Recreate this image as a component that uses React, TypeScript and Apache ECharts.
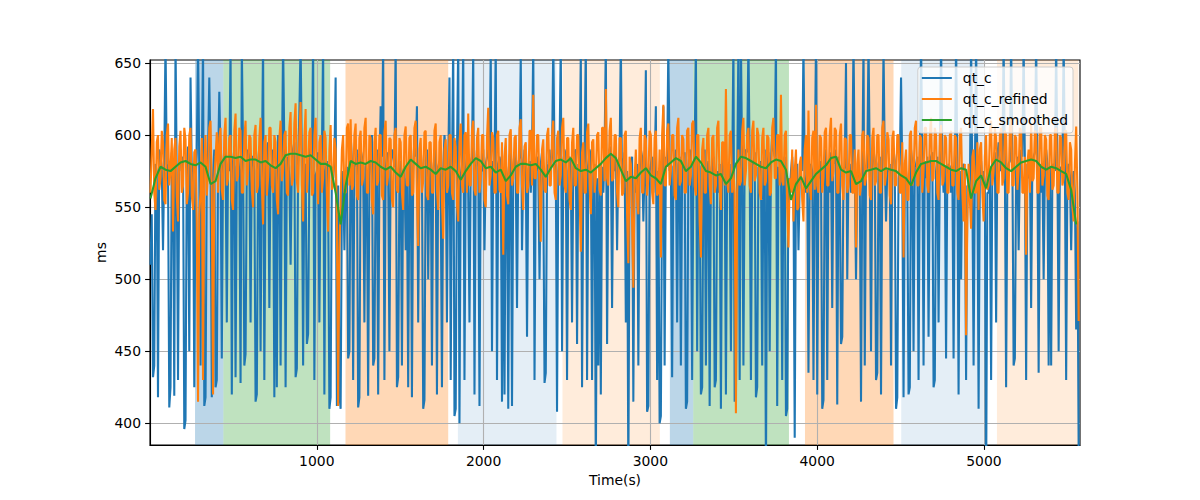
import React, { useEffect, useRef } from "react";
import * as echarts from "echarts";

// Sampling grid of the raw series (seconds)
const SAMPLE_START = 3;
const SAMPLE_STEP = 7.5;
const SMOOTH_START = 3;
const SMOOTH_STEP = 30;

const qtC = [
  510, 545, 432, 440, 580, 575, 418, 590, 585, 578, 520, 582, 665, 580, 575, 411, 425, 588, 572, 419, 665, 570, 430, 582, 590, 575, 585, 396, 402, 578, 592, 450, 640, 575, 580, 425, 570, 588, 665, 578,
  440, 578, 665, 412, 418, 575, 588, 640, 580, 418, 572, 590, 425, 430, 578, 630, 585, 445, 578, 590, 582, 470, 580, 575, 662, 420, 582, 590, 432, 578, 585, 575, 428, 662, 588, 440, 448, 580, 590, 585,
  470, 585, 585, 575, 415, 420, 580, 592, 450, 578, 665, 430, 575, 588, 595, 480, 580, 575, 590, 418, 578, 425, 600, 585, 440, 575, 665, 590, 425, 580, 585, 570, 510, 578, 590, 595, 432, 438, 580, 615,
  665, 582, 440, 578, 580, 455, 462, 575, 600, 585, 665, 430, 572, 575, 588, 470, 580, 585, 665, 420, 575, 582, 560, 410, 418, 578, 570, 582, 640, 412, 565, 420, 410, 555, 575, 520, 570, 578, 445, 450,
  600, 582, 430, 578, 580, 590, 411, 418, 590, 585, 578, 470, 580, 560, 419, 572, 588, 600, 440, 445, 575, 590, 420, 575, 620, 585, 665, 430, 575, 588, 575, 450, 580, 590, 585, 578, 665, 425, 432, 570,
  582, 440, 575, 578, 520, 570, 425, 580, 588, 418, 575, 600, 585, 620, 470, 578, 590, 575, 410, 416, 582, 590, 500, 578, 585, 440, 575, 585, 590, 420, 578, 582, 560, 425, 575, 600, 588, 470, 580, 640,
  430, 575, 665, 405, 410, 585, 665, 400, 572, 580, 665, 430, 575, 588, 560, 470, 580, 585, 660, 420, 575, 590, 585, 412, 578, 575, 590, 520, 580, 585, 590, 578, 660, 450, 582, 575, 665, 430, 580, 585,
  580, 415, 575, 420, 580, 572, 410, 585, 590, 412, 578, 588, 575, 480, 580, 585, 655, 520, 578, 590, 580, 460, 575, 582, 560, 588, 665, 430, 578, 585, 575, 500, 580, 588, 565, 428, 435, 575, 580, 590,
  575, 585, 665, 580, 578, 408, 575, 590, 665, 450, 580, 590, 585, 430, 575, 585, 578, 470, 578, 588, 590, 455, 580, 575, 658, 425, 575, 585, 665, 430, 578, 590, 585, 430, 575, 580, 360, 570, 440, 580,
  420, 578, 560, 588, 665, 455, 580, 590, 592, 480, 585, 575, 590, 520, 582, 585, 665, 560, 580, 588, 470, 575, 360, 570, 580, 585, 415, 572, 560, 580, 440, 575, 590, 585, 540, 578, 645, 408, 412, 575,
  580, 585, 560, 578, 620, 430, 575, 400, 405, 570, 620, 440, 585, 578, 665, 575, 582, 432, 578, 580, 590, 470, 580, 585, 440, 575, 580, 588, 410, 415, 578, 590, 585, 430, 580, 585, 665, 450, 582, 578,
  420, 425, 578, 590, 440, 575, 582, 412, 572, 580, 585, 425, 430, 575, 560, 580, 410, 570, 595, 582, 420, 575, 570, 580, 450, 572, 665, 415, 420, 570, 665, 430, 665, 578, 440, 585, 590, 588, 665, 580,
  430, 580, 580, 588, 418, 425, 578, 560, 582, 440, 575, 590, 360, 575, 588, 450, 582, 600, 590, 585, 665, 412, 578, 570, 588, 430, 580, 585, 405, 410, 570, 560, 575, 585, 565, 390, 572, 580, 520, 568,
  580, 575, 665, 570, 560, 575, 435, 568, 580, 575, 430, 572, 665, 420, 575, 570, 582, 410, 416, 585, 590, 430, 580, 560, 588, 480, 585, 580, 590, 413, 585, 575, 455, 460, 575, 578, 650, 500, 575, 580,
  560, 578, 665, 575, 500, 570, 575, 572, 415, 568, 665, 440, 575, 578, 665, 580, 450, 578, 590, 582, 430, 435, 580, 585, 420, 578, 660, 582, 540, 575, 575, 580, 440, 578, 590, 582, 410, 418, 570, 580,
  640, 575, 418, 570, 575, 565, 420, 425, 590, 580, 450, 578, 580, 585, 430, 582, 665, 588, 440, 582, 570, 585, 460, 580, 585, 588, 425, 430, 575, 585, 470, 580, 665, 582, 560, 578, 445, 575, 580, 578,
  560, 578, 445, 575, 665, 580, 420, 575, 500, 578, 580, 575, 430, 565, 560, 560, 665, 565, 440, 572, 665, 578, 410, 575, 582, 565, 575, 568, 350, 560, 560, 575, 430, 580, 580, 588, 470, 585, 595, 582,
  575, 580, 665, 578, 425, 575, 580, 582, 665, 585, 440, 445, 575, 585, 520, 580, 590, 585, 665, 582, 430, 580, 570, 585, 480, 582, 585, 588, 665, 585, 435, 580, 560, 578, 500, 575, 590, 580, 440, 578,
  440, 578, 580, 575, 665, 580, 450, 578, 575, 580, 665, 578, 430, 575, 580, 572, 520, 568, 575, 560, 465, 540, 380,
];

const qtCRefined = [
  560, 590, 618, 560, 548, 595, 600, 562, 570, 603, 595, 555, 552, 600, 608, 565, 575, 598, 533, 590, 598, 558, 540, 592, 603, 560, 565, 605, 597, 552, 560, 600, 605, 558, 548, 588, 590, 540, 415, 545,
  560, 598, 430, 580, 600, 558, 575, 605, 610, 560, 420, 570, 585, 602, 560, 598, 605, 562, 555, 600, 612, 565, 570, 598, 600, 555, 548, 603, 615, 568, 572, 605, 603, 560, 560, 598, 610, 565, 575, 600,
  598, 562, 550, 600, 607, 560, 565, 598, 612, 565, 538, 595, 600, 558, 570, 605, 605, 565, 560, 600, 595, 555, 545, 598, 610, 568, 575, 600, 603, 560, 558, 605, 616, 565, 570, 608, 622, 568, 560, 600,
  623, 565, 540, 598, 618, 560, 575, 602, 605, 558, 560, 600, 612, 568, 552, 595, 600, 560, 570, 603, 598, 558, 533, 590, 607, 562, 565, 598, 590, 540, 412, 520, 555, 590, 600, 560, 560, 605, 608, 565,
  611, 562, 565, 600, 608, 558, 555, 598, 603, 565, 570, 605, 612, 560, 560, 600, 598, 555, 545, 595, 605, 565, 568, 600, 600, 558, 555, 602, 610, 565, 572, 598, 597, 555, 550, 600, 605, 562, 560, 598,
  595, 560, 548, 600, 606, 565, 565, 598, 600, 558, 560, 605, 610, 560, 523, 590, 598, 560, 568, 602, 603, 558, 555, 595, 595, 560, 560, 603, 608, 562, 548, 595, 600, 555, 528, 590, 597, 560, 565, 600,
  600, 560, 555, 598, 592, 552, 540, 595, 608, 565, 560, 600, 602, 560, 615, 565, 565, 603, 610, 562, 558, 598, 605, 560, 570, 600, 600, 555, 550, 598, 619, 565, 572, 602, 598, 560, 560, 600, 603, 562,
  560, 595, 517, 585, 598, 558, 552, 600, 604, 565, 570, 598, 600, 560, 560, 605, 611, 565, 548, 592, 595, 560, 565, 603, 603, 565, 628, 570, 570, 600, 600, 560, 526, 590, 597, 562, 560, 600, 605, 565,
  565, 600, 610, 560, 555, 598, 603, 565, 572, 605, 612, 565, 560, 598, 598, 555, 548, 595, 605, 565, 565, 600, 600, 560, 519, 588, 595, 560, 560, 602, 608, 565, 545, 595, 597, 560, 570, 600, 602, 562,
  558, 605, 605, 568, 632, 570, 565, 603, 612, 568, 570, 600, 600, 560, 550, 598, 598, 558, 560, 600, 603, 545, 511, 585, 580, 540, 494, 570, 590, 555, 545, 598, 605, 560, 560, 600, 597, 558, 570, 603,
  600, 560, 552, 598, 603, 558, 560, 590, 515, 600, 621, 565, 565, 603, 608, 565, 575, 600, 600, 558, 555, 605, 612, 565, 568, 600, 597, 560, 560, 603, 605, 565, 572, 608, 610, 565, 558, 600, 600, 540,
  515, 590, 598, 560, 560, 600, 605, 565, 552, 598, 600, 560, 565, 605, 610, 562, 548, 595, 595, 565, 632, 568, 560, 600, 603, 560, 575, 560, 407, 560, 590, 565, 568, 603, 612, 565, 575, 600, 605, 565,
  560, 603, 610, 568, 572, 605, 600, 560, 555, 598, 605, 565, 568, 600, 598, 558, 560, 605, 612, 570, 570, 600, 600, 565, 628, 568, 565, 600, 603, 550, 522, 570, 560, 590, 540, 575, 590, 548, 550, 580,
  585, 555, 540, 590, 600, 560, 617, 565, 555, 598, 603, 562, 621, 565, 560, 600, 598, 560, 570, 602, 605, 565, 565, 600, 612, 568, 575, 605, 603, 560, 560, 600, 608, 565, 555, 598, 597, 560, 565, 600,
  600, 560, 560, 590, 522, 580, 590, 558, 565, 600, 603, 565, 570, 600, 598, 558, 555, 598, 605, 565, 568, 600, 600, 560, 560, 605, 610, 565, 572, 602, 597, 558, 552, 598, 603, 565, 565, 600, 600, 560,
  560, 595, 515, 580, 590, 555, 555, 600, 603, 565, 570, 605, 610, 565, 565, 600, 598, 560, 575, 605, 605, 565, 560, 600, 612, 568, 570, 605, 600, 560, 555, 600, 607, 565, 568, 600, 598, 560, 560, 600,
  603, 565, 565, 600, 598, 560, 555, 600, 605, 560, 540, 580, 461, 540, 580, 555, 535, 585, 590, 560, 560, 595, 548, 590, 595, 560, 540, 585, 600, 562, 565, 603, 610, 565, 575, 605, 598, 560, 560, 600,
  605, 565, 570, 603, 600, 560, 560, 605, 612, 565, 565, 600, 598, 562, 575, 605, 603, 560, 560, 585, 517, 580, 590, 560, 608, 568, 570, 603, 600, 560, 560, 605, 605, 565, 572, 600, 597, 558, 555, 600,
  600, 562, 565, 603, 605, 560, 560, 600, 598, 565, 570, 603, 603, 560, 555, 595, 590, 550, 540, 580, 606, 560, 471,
];

const qtCSmoothed = [
  556, 570, 578, 576, 575, 578, 581, 582, 580, 579, 581, 578, 566, 568, 580, 585, 585, 584, 585, 582,
  583, 583, 581, 582, 579, 577, 580, 586, 587, 587, 586, 585, 586, 583, 580, 580, 578, 560, 538, 565,
  582, 580, 581, 580, 582, 581, 578, 576, 578, 574, 571, 578, 583, 580, 577, 578, 576, 573, 577, 576,
  578, 575, 569, 575, 580, 584, 582, 577, 578, 574, 576, 568, 572, 578, 580, 580, 579, 580, 576, 571,
  577, 582, 583, 581, 584, 577, 575, 576, 574, 577, 580, 584, 587, 584, 576, 568, 571, 570, 574, 577,
  572, 570, 566, 578, 581, 584, 582, 575, 578, 585, 581, 575, 574, 572, 573, 566, 570, 580, 585, 584,
  582, 580, 578, 577, 581, 583, 582, 576, 555, 566, 571, 563, 568, 573, 576, 579, 584, 585, 576, 574,
  575, 566, 568, 575, 576, 577, 575, 577, 576, 575, 572, 570, 565, 574, 580, 581, 582, 582, 580, 578,
  576, 575, 577, 576, 556, 568, 572, 563, 578, 583, 581, 577, 575, 578, 581, 582, 583, 582, 578, 576,
  578, 577, 575, 573, 562, 538,
];

// Shaded intervals (seconds) and their kinds
const spanStarts = [270, 440, 1172, 1846, 2473, 3117, 3257, 3927, 4504, 5078];
const spanEnds = [440, 1080, 1788, 2437, 3057, 3257, 3831, 4458, 4998, 5566];
const spanKinds = [0, 1, 2, 3, 4, 0, 1, 2, 3, 4];
const spanColors = [
  "rgba(31,119,180,0.3)",
  "rgba(44,160,44,0.3)",
  "rgba(255,127,14,0.3)",
  "rgba(31,119,180,0.12)",
  "rgba(255,127,14,0.15)",
];

const xTicks = [1000, 2000, 3000, 4000, 5000];
const yTicks = [400, 450, 500, 550, 600, 650];

const X_MIN = 0;
const X_MAX = 5576;
const Y_MIN = 384.9;
const Y_MAX = 652.1;

const FONT = "DejaVu Sans";
const FS = 13.9;
const LW = 2.08;

export default function App() {
  const ref = useRef<HTMLDivElement>(null);

  useEffect(() => {
    if (!ref.current) return;
    const chart = echarts.init(ref.current, null, { renderer: "svg" });

    const rawData = qtC.map((v, i) => [SAMPLE_START + SAMPLE_STEP * i, v]);
    const refData = qtCRefined.map((v, i) => [SAMPLE_START + SAMPLE_STEP * i, v]);
    const smData = qtCSmoothed.map((v, i) => [SMOOTH_START + SMOOTH_STEP * i, v]);
    const spanData = spanStarts.map((s, i) => [s, spanEnds[i], spanKinds[i]]);

    const axisCommon = {
      z: 1.5,
      axisLine: { show: true, onZero: false, lineStyle: { color: "#000", width: 1.1 } },
      axisTick: { show: true, length: 4.9, lineStyle: { color: "#000", width: 1.1 } },
      splitLine: { show: true, lineStyle: { color: "#b0b0b0", width: 1.1 } },
      nameTextStyle: { fontFamily: FONT, fontSize: FS, color: "#000" },
      nameMoveOverlap: false,
    };

    chart.setOption({
      animation: false,
      grid: {
        left: 150,
        right: 120,
        top: 60,
        bottom: 55,
        show: true,
        borderColor: "#000",
        borderWidth: 1.1,
        backgroundColor: "transparent",
      },
      legend: {
        data: ["qt_c", "qt_c_refined", "qt_c_smoothed"],
        orient: "vertical",
        right: 127,
        top: 67,
        icon: "rect",
        itemWidth: 30,
        itemHeight: 2,
        itemGap: 5,
        padding: [3, 5, 5, 4],
        backgroundColor: "rgba(255,255,255,0.8)",
        borderColor: "#cccccc",
        borderWidth: 1,
        borderRadius: 3,
        textStyle: {
          fontFamily: FONT,
          fontSize: FS,
          color: "#000",
          lineHeight: 16,
          padding: [0, 0, 0, 6],
        },
      },
      xAxis: {
        ...axisCommon,
        type: "value",
        min: X_MIN,
        max: X_MAX,
        name: "Time(s)",
        nameLocation: "middle",
        nameGap: 28,
        axisTick: { ...axisCommon.axisTick, customValues: xTicks },
        axisLabel: {
          customValues: xTicks,
          formatter: (v: number) => String(v),
          fontFamily: FONT,
          fontSize: FS,
          color: "#000",
          margin: 9,
        },
      },
      yAxis: {
        ...axisCommon,
        type: "value",
        min: Y_MIN,
        max: Y_MAX,
        name: "ms",
        nameLocation: "middle",
        nameGap: 42,
        nameRotate: 90,
        axisTick: { ...axisCommon.axisTick, customValues: yTicks },
        axisLabel: {
          customValues: yTicks,
          formatter: (v: number) => String(v),
          fontFamily: FONT,
          fontSize: FS,
          color: "#000",
          margin: 9,
        },
      },
      series: [
        {
          type: "custom",
          name: "spans",
          z: 1,
          silent: true,
          clip: true,
          encode: { x: [0, 1] },
          data: spanData,
          renderItem: (params: any, api: any) => {
            const p0 = api.coord([api.value(0), Y_MAX]);
            const p1 = api.coord([api.value(1), Y_MIN]);
            return {
              type: "rect",
              shape: { x: p0[0], y: p0[1], width: p1[0] - p0[0], height: p1[1] - p0[1] },
              style: { fill: spanColors[api.value(2)] },
            };
          },
        },
        {
          type: "line",
          name: "qt_c",
          z: 2,
          data: rawData,
          showSymbol: false,
          symbol: "none",
          color: "#1f77b4",
          lineStyle: { color: "#1f77b4", width: LW },
        },
        {
          type: "line",
          name: "qt_c_refined",
          z: 3,
          data: refData,
          showSymbol: false,
          symbol: "none",
          color: "#ff7f0e",
          lineStyle: { color: "#ff7f0e", width: LW },
        },
        {
          type: "line",
          name: "qt_c_smoothed",
          z: 4,
          data: smData,
          showSymbol: false,
          symbol: "none",
          color: "#2ca02c",
          lineStyle: { color: "#2ca02c", width: LW },
        },
      ],
    });

    return () => chart.dispose();
  }, []);

  return (
    <div
      ref={ref}
      style={{ position: "fixed", left: 0, top: 0, width: 1200, height: 500, background: "#fff" }}
    />
  );
}
